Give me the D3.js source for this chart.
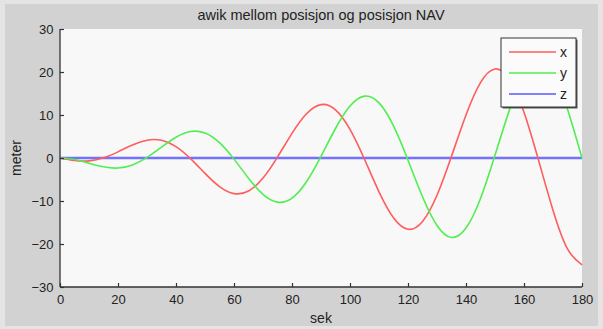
<!DOCTYPE html>
<html>
<head>
<meta charset="utf-8">
<script src="https://cdn.jsdelivr.net/npm/d3@7"></script>
<style>
  html, body { margin: 0; padding: 0; background: #e4e4e4; }
  svg { display: block; }
  text { font-family: "Liberation Sans", Arial, sans-serif; fill: #222; }
</style>
</head>
<body>
<script>
// Sample times (s) and position deviation per axis (m)
const time = [0, 5, 10, 15, 20, 25, 30, 35, 40, 45, 50, 55, 60, 65, 70, 75, 80, 85, 90,
              95, 100, 105, 110, 115, 120, 125, 130, 135, 140, 145, 150, 155, 160, 165, 170, 175, 180];
const devX = [0, -0.59, -0.66, 0.04, 1.43, 3.02, 4.14, 4.13, 2.66, -0.13, -3.57, -6.65, -8.28, -7.67,
              -4.66, 0.22, 5.72, 10.28, 12.42, 11.21, 6.65, -0.30, -7.86, -13.90, -16.56, -14.75, -8.65,
              0.39, 10.01, 17.53, 20.70, 18.29, 10.64, -0.48, -12.15, -21.16, -24.84];
const devY = [0, -0.36, -1.21, -2.05, -2.33, -1.62, 0.13, 2.53, 4.83, 6.16, 5.82, 3.56, -0.26, -4.69,
              -8.45, -10.27, -9.32, -5.51, 0.38, 6.86, 12.07, 14.38, 12.81, 7.45, -0.51, -9.02, -15.69,
              -18.49, -16.30, -9.40, 0.64, 11.19, 19.31, 22.60, 19.80, 11.34, 0];
const devZ = time.map(() => 0);

const seriesNames = ["x", "y", "z"];
const seriesColors = ["#ff5c5c", "#50ee50", "#5a5aff"];
const xTicks = [0, 20, 40, 60, 80, 100, 120, 140, 160, 180];
const yTicks = [-30, -20, -10, 0, 10, 20, 30];

const titleText = "awik mellom posisjon og posisjon NAV";
const xLabel = "sek";
const yLabel = "meter";

const W = 603, H = 329;
const plot = { left: 60, right: 582, top: 29, bottom: 287 };

const svg = d3.select("body").append("svg").attr("width", W).attr("height", H);

// figure background with a lighter outer frame
svg.append("rect").attr("width", W).attr("height", H).attr("fill", "#e4e4e4");
svg.append("rect").attr("x", 5).attr("y", 4).attr("width", W - 10).attr("height", H - 7)
  .attr("fill", "#d2d2d2");

const x = d3.scaleLinear().domain([0, 180]).range([plot.left, plot.right]);
const y = d3.scaleLinear().domain([-30, 30]).range([plot.bottom, plot.top]);

// plot area
svg.append("rect")
  .attr("x", plot.left).attr("y", plot.top)
  .attr("width", plot.right - plot.left).attr("height", plot.bottom - plot.top)
  .attr("fill", "#f8f8f8");

// series
const series = [devX, devY, devZ];
const line = d3.line()
  .x((d, i) => x(time[i]))
  .y(d => y(d))
  .curve(d3.curveNatural);

// draw z first so x and y sit on top of it at the start
[2, 0, 1].forEach(k => {
  svg.append("path")
    .datum(series[k])
    .attr("d", line)
    .attr("fill", "none")
    .attr("stroke", seriesColors[k])
    .attr("stroke-width", k === 2 ? 2.4 : 1.6)
    .attr("stroke-opacity", k === 2 ? 0.85 : 1);
});

// axes (ticks point inward)
const axisColor = "#333";
const xAxis = d3.axisBottom(x).tickValues(xTicks).tickSize(-4).tickPadding(8).tickFormat(d3.format("d"));
const yAxis = d3.axisLeft(y).tickValues(yTicks).tickSize(-4).tickPadding(6.5).tickFormat(d3.format("d"));

const gx = svg.append("g").attr("transform", `translate(0,${plot.bottom})`).call(xAxis);
const gy = svg.append("g").attr("transform", `translate(${plot.left},0)`).call(yAxis);
[gx, gy].forEach(g => {
  g.select(".domain").attr("stroke", axisColor).attr("stroke-width", 1.3);
  g.selectAll(".tick line").attr("stroke", axisColor).attr("stroke-width", 1.2);
  g.selectAll(".tick text").attr("font-size", 13).attr("fill", "#222")
    .style("font-family", "'Liberation Sans', Arial, sans-serif");
});
gx.select(".domain").attr("d", `M${plot.left},0H${plot.right}`);
gy.select(".domain").attr("d", `M0,${plot.bottom}V${plot.top}`);

// title and labels
svg.append("text").attr("x", (plot.left + plot.right) / 2).attr("y", 20)
  .attr("text-anchor", "middle").attr("font-size", 14.5).text(titleText);
svg.append("text").attr("x", (plot.left + plot.right) / 2).attr("y", 323)
  .attr("text-anchor", "middle").attr("font-size", 14).text(xLabel);
svg.append("text")
  .attr("transform", `translate(21,${(plot.top + plot.bottom) / 2}) rotate(-90)`)
  .attr("text-anchor", "middle").attr("font-size", 14).text(yLabel);

// legend
const lg = { x: 501, y: 38, w: 75, h: 69 };
svg.append("rect").attr("x", lg.x + 1.5).attr("y", lg.y + 1.5)
  .attr("width", lg.w).attr("height", lg.h).attr("fill", "#555");
svg.append("rect").attr("x", lg.x).attr("y", lg.y)
  .attr("width", lg.w).attr("height", lg.h)
  .attr("fill", "#fbfbfb").attr("stroke", "#333").attr("stroke-width", 1);
const rowY = d3.scalePoint().domain(seriesNames).range([lg.y + 14, lg.y + 56]);
seriesNames.forEach((name, i) => {
  svg.append("line")
    .attr("x1", lg.x + 8).attr("x2", lg.x + 55)
    .attr("y1", rowY(name)).attr("y2", rowY(name))
    .attr("stroke", seriesColors[i]).attr("stroke-width", 1.5);
  svg.append("text").attr("x", lg.x + 59).attr("y", rowY(name) + 5)
    .attr("font-size", 14).text(name);
});
</script>
</body>
</html>
